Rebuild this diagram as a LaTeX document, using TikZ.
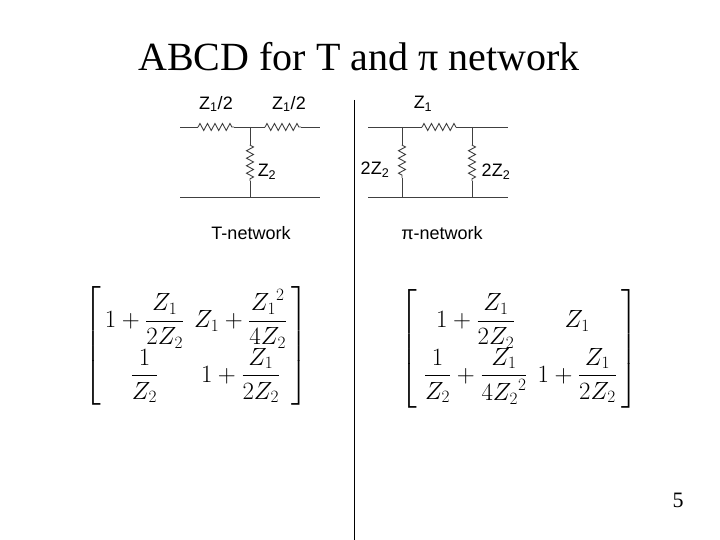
\documentclass[tikz,border=0pt]{standalone}
\usepackage{amsmath}
\usepackage{fontspec}
\setmainfont{Liberation Serif}
\newfontfamily\sansf{Liberation Sans}
\usetikzlibrary{decorations.pathmorphing}
\tikzset{
  wire/.style={draw=black!75, line width=0.9pt},
  res/.style={draw=black!75, line width=0.9pt, decorate, decoration={zigzag, segment length=7.5pt, amplitude=3.5pt, pre length=0.1pt, post length=0.1pt}},
  lab/.style={font=\sansf\fontsize{18}{20}\selectfont, inner sep=0pt},
  mat/.style={font=\fontsize{25}{28}\selectfont, inner sep=0pt}
}
\begin{document}
\begin{tikzpicture}[x=1pt,y=-1pt]
\useasboundingbox[fill=white] (0,0) rectangle (720,540);
\node[font=\fontsize{40}{44}\selectfont] (title) at (359,57) {ABCD for T and π network};
% divider
\coordinate (d1) at (354,100); \coordinate (d2) at (354,540);
\draw[line width=1pt] (d1) -- (d2);
% T network
\coordinate (ta) at (180,127); \coordinate (tr1a) at (198,127); \coordinate (tr1b) at (234,127);
\coordinate (tj) at (250,127); \coordinate (tr2a) at (265,127); \coordinate (tr2b) at (301,127);
\coordinate (tb) at (320,127);
\coordinate (tv1) at (250,145); \coordinate (tv2) at (250,181); \coordinate (tjb) at (250,197);
\coordinate (tc) at (180,197); \coordinate (td) at (320,197);
\draw[wire] (ta) -- (tr1a) (tr1b) -- (tr2a) (tr2b) -- (tb);
\draw[res] (tr1a) -- (tr1b);
\draw[res] (tr2a) -- (tr2b);
\draw[wire] (tj) -- (tv1) (tv2) -- (tjb);
\draw[res] (tv1) -- (tv2);
\draw[wire] (tc) -- (td);
\node[lab] (l1) at (216,104) {Z\textsubscript{1}/2};
\node[lab] (l2) at (289,104) {Z\textsubscript{1}/2};
\node[lab] (l3) at (267,172) {Z\textsubscript{2}};
\node[lab] (tn) at (251,233) {T-network};
% pi network
\coordinate (pa) at (368,127); \coordinate (pl) at (402,127); \coordinate (pr1) at (422,127);
\coordinate (pr2) at (456,127); \coordinate (pr) at (472,127); \coordinate (pb) at (508,127);
\coordinate (pl1) at (402,145); \coordinate (pl2) at (402,178); \coordinate (plb) at (402,197);
\coordinate (prr1) at (472,145); \coordinate (prr2) at (472,181); \coordinate (prb) at (472,197);
\coordinate (pc) at (368,197); \coordinate (pd) at (508,197);
\draw[wire] (pa) -- (pr1) (pr2) -- (pb);
\draw[res] (pr1) -- (pr2);
\draw[wire] (pl) -- (pl1) (pl2) -- (plb) (pr) -- (prr1) (prr2) -- (prb);
\draw[res] (pl1) -- (pl2);
\draw[res] (prr1) -- (prr2);
\draw[wire] (pc) -- (pd);
\node[lab] (m1) at (423,104) {Z\textsubscript{1}};
\node[lab] (m2) at (375,170) {2Z\textsubscript{2}};
\node[lab] (m3) at (496,172) {2Z\textsubscript{2}};
\node[lab] (pn) at (442,233) {π-network};
% matrices
\node[mat] (ma) at (196,346) {$\left[\begin{array}{@{\,}cc@{\,}}
 1+\dfrac{Z_1}{2Z_2} & Z_1+\dfrac{{Z_1}^2}{4Z_2}\\[10pt]
 \dfrac{1}{Z_2} & 1+\dfrac{Z_1}{2Z_2}
\end{array}\right]$};
\node[mat] (mb) at (519,349) {$\left[\begin{array}{@{\;}cc@{\,}}
 1+\dfrac{Z_1}{2Z_2} & Z_1\\[10pt]
 \dfrac{1}{Z_2}+\dfrac{Z_1}{4{Z_2}^2} & 1+\dfrac{Z_1}{2Z_2}
\end{array}\right]$};
\node[font=\fontsize{22}{26}\selectfont] (pg) at (678,500) {5};
\end{tikzpicture}
\end{document}
